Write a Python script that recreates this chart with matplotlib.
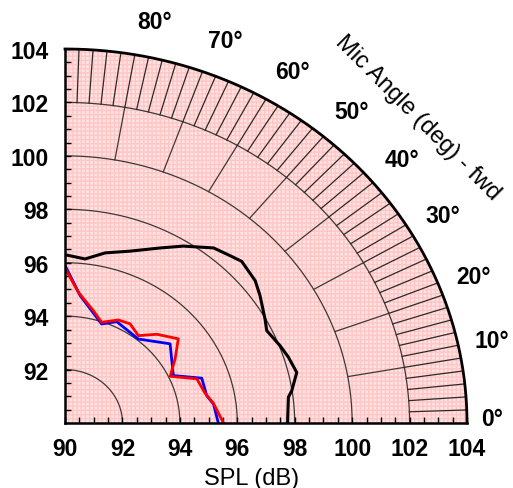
import numpy as np
import matplotlib
matplotlib.use("Agg")
import matplotlib.pyplot as plt

plt.rcParams['font.family'] = ['Liberation Sans', 'DejaVu Sans']
plt.rcParams['hatch.linewidth'] = 1.0

# radial scale (dB) and angles (deg)
r_min, r_max = 90, 104
ring_levels = [92, 94, 96, 98, 100, 102]
angle_labels = [0, 10, 20, 30, 40, 50, 60, 70, 80]
tick_labels_x = [90, 92, 94, 96, 98, 100, 102, 104]
tick_labels_y = [92, 94, 96, 98, 100, 102, 104]

# measured curves: angle (deg) vs SPL (dB)
black_ang = [90, 83.5, 77.6, 70.6, 63.2, 58.1, 51.7, 47.5, 44.5, 38.8, 35.1, 29.2, 26.2, 21.1, 17.6, 13.2, 8.7, 7.1, 0]
black_spl = [96.3, 96.18, 96.52, 96.82, 97.34, 97.80, 98.35, 98.50, 98.63, 98.50, 98.30, 97.98, 97.83, 98.03, 98.16, 98.29, 97.99, 97.84, 97.75]

blue_ang = [90, 83.7, 71.0, 64.6, 50.9, 39.0, 25.2, 19.4, 11.7, 7.8, 0]
blue_spl = [95.9, 94.80, 93.92, 94.20, 94.05, 94.71, 94.17, 95.05, 95.04, 95.22, 95.34]

red_ang = [90, 84.6, 76.8, 71.3, 64.3, 58.6, 52.0, 46.1, 38.6, 32.0, 25.5, 19.8, 13.0, 8.2, 0]
red_spl = [95.8, 94.92, 94.32, 93.98, 94.28, 94.35, 94.15, 94.61, 95.05, 94.52, 94.06, 94.88, 95.0, 95.22, 95.52]


def to_xy(ang, r):
    t = np.radians(np.asarray(ang, dtype=float))
    rr = np.asarray(r, dtype=float) - r_min
    return r_min + rr * np.cos(t), r_min + rr * np.sin(t)


fig = plt.figure(figsize=(5.13, 4.89), dpi=100)
ax = fig.add_axes([65 / 513, 65 / 489, 402 / 513, 374 / 489])
ax.set_xlim(r_min, r_max)
ax.set_ylim(r_min, r_max)

# pink hatched background
th = np.linspace(0, 90, 200)
bx, by = to_xy(th, np.full_like(th, r_max))
bx = np.concatenate([[r_min], bx, [r_min]])
by = np.concatenate([[r_min], by, [r_min]])
ax.fill(bx, by, facecolor='#ffe2e2', edgecolor='#ffc6c6', hatch='++++', lw=0, zorder=0)

# grid rings
for lev in ring_levels:
    cx, cy = to_xy(th, np.full_like(th, lev))
    ax.plot(cx, cy, color='#3a3a3a', lw=0.9, zorder=1)

# spokes: every 10 deg between 100 and 102, every 2 deg between 102 and 104
for a in range(10, 90, 10):
    sx, sy = to_xy([a, a], [100, 102])
    ax.plot(sx, sy, color='#3a3a3a', lw=0.9, zorder=1)
for a in range(2, 90, 2):
    sx, sy = to_xy([a, a], [102, 104])
    ax.plot(sx, sy, color='#2a2a2a', lw=0.9, zorder=1)

# outer boundary
ox, oy = to_xy(th, np.full_like(th, r_max))
ax.plot(ox, oy, color='black', lw=2, zorder=3, clip_on=False)

# curves
x, y = to_xy(black_ang, black_spl)
ax.plot(x, y, color='black', lw=2.2, zorder=4)
x, y = to_xy(blue_ang, blue_spl)
ax.plot(x, y, color='#0000ff', lw=2, zorder=5)
x, y = to_xy(red_ang, red_spl)
ax.plot(x, y, color='#ff0000', lw=2, zorder=6)

# axes styling
for s in ['top', 'right']:
    ax.spines[s].set_visible(False)
for s in ['left', 'bottom']:
    ax.spines[s].set_linewidth(1.8)
    ax.spines[s].set_zorder(7)
ax.set_xticks(tick_labels_x)
ax.set_yticks(tick_labels_y)
ax.set_xticks(np.arange(90.5, 104, 0.5), minor=True)
ax.set_yticks(np.arange(90.5, 104, 0.5), minor=True)
ax.tick_params(which='both', direction='in', length=4, width=1, color='black')
ax.tick_params(axis='x', which='major', pad=10, labelsize=16.5)
ax.tick_params(axis='y', which='major', pad=12, labelsize=16.5)
for lab in ax.get_xticklabels() + ax.get_yticklabels():
    lab.set_fontweight('bold')
ax.patch.set_visible(False)

ax.set_xlabel('SPL (dB)', fontsize=17)
ax.xaxis.set_label_coords(0.465, -0.117)

# angle labels
for a in angle_labels:
    off = 2.5 - 2.0 * a / 80 if a > 0 else 0.6
    lx, ly = to_xy(a + off, 104.5 + 0.75 * a / 80)
    ax.text(lx, ly, f'{a}\u00b0', fontsize=16.5, fontweight='bold',
            ha='left', va='center', clip_on=False)

ax.text(102.27, 101.46, 'Mic Angle (deg) - fwd', fontsize=17, rotation=-45,
        rotation_mode='anchor', ha='center', va='center', clip_on=False)

fig.savefig('out.png', dpi=100)
